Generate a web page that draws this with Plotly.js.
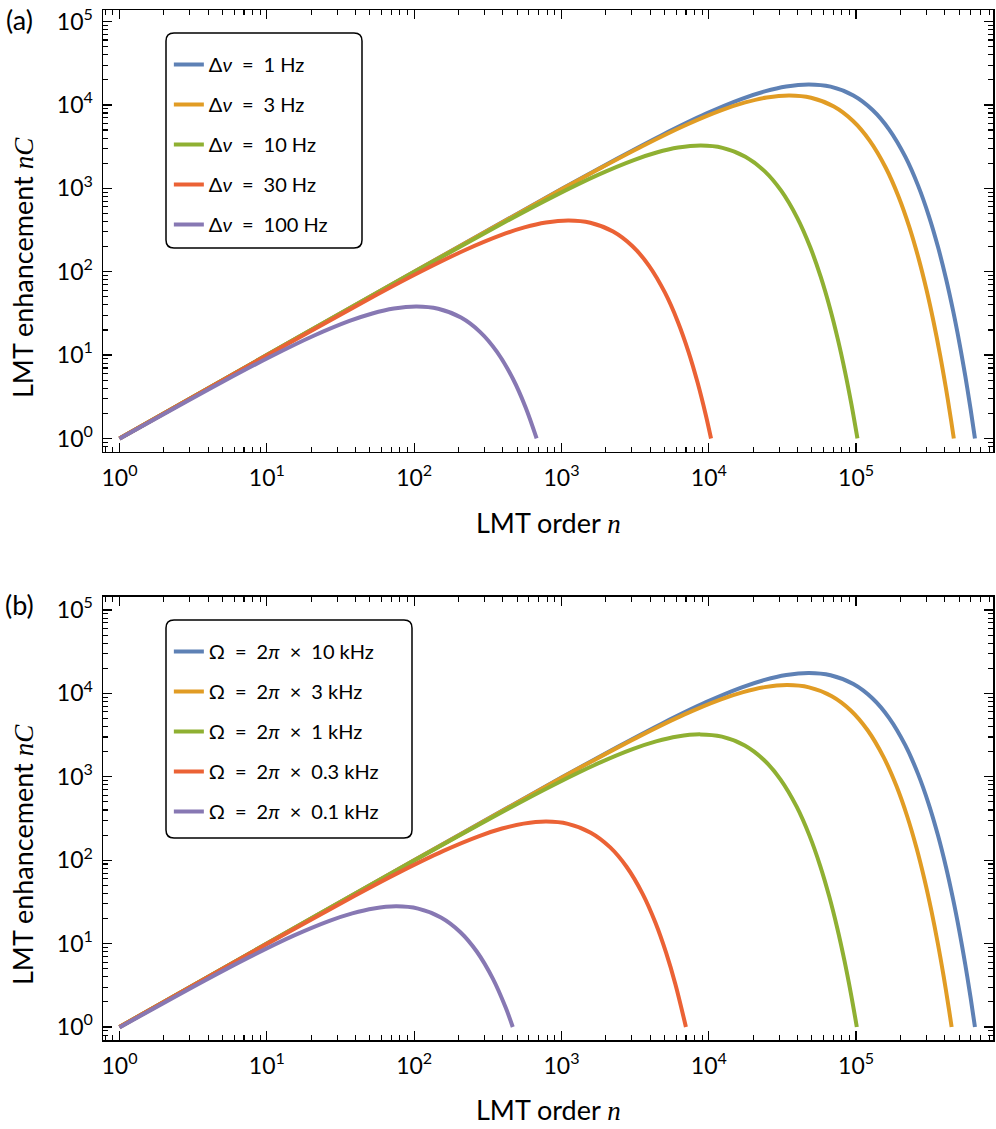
<!DOCTYPE html>
<html>
<head>
<meta charset="utf-8">
<script src="https://cdn.plot.ly/plotly-3.0.1.min.js"></script>
<style>
  body { margin: 0; background: #fff; }
  #chart { width: 996px; height: 1129px; }
</style>
</head>
<body>
<div id="chart"></div>
<script>
// panel (a): linewidth dnu
const nBlueA = [1, 10, 100, 1000, 2395, 4790, 9580, 16765, 23950, 33530, 47900, 67060, 95800, 129330, 167650, 215550, 263450, 311350, 359250, 407150, 455050, 502950, 550850, 598750, 640400];
const vBlueA = [1, 10, 99.8, 979, 2278, 4334, 7844, 11814, 14527, 16651, 17621, 16537, 12965, 8692, 5063, 2394.5, 1076.6, 468.1, 198.7, 82.84, 34.06, 13.85, 5.58, 2.231, 1];
const nOrangeA = [1, 10, 100, 1000, 1765, 3530, 7060, 12355, 17650, 24710, 35300, 49420, 70600, 95310, 123550, 158850, 194150, 229450, 264750, 300050, 335350, 370650, 405950, 441250, 460300];
const vOrangeA = [1, 10, 99.7, 972.1, 1679, 3194, 5780, 8706, 10705, 12271, 12986, 12187, 9555, 6406, 3731, 1764.6, 793.4, 345.0, 146.4, 61.05, 25.10, 10.21, 4.112, 1.644, 1];
const nGreenA = [1, 10, 100, 442.5, 885, 1770, 3097.5, 4425, 6195, 8850, 12390, 17700, 23895, 30975, 39825, 48675, 57525, 66375, 75225, 84075, 92925, 102070];
const vGreenA = [1, 9.99, 98.9, 420.9, 800.7, 1449, 2182.8, 2684, 3076, 3256, 3055, 2395, 1606, 935.4, 442.4, 198.9, 86.49, 36.71, 15.31, 6.293, 2.559, 1];
const nRedA = [1, 10, 56, 112, 224, 392, 560, 784, 1120, 1568, 2240, 3024, 3920, 5040, 6160, 7280, 8400, 9520, 10354];
const vRedA = [1, 9.91, 53.27, 101.3, 183.4, 276.2, 339.7, 389.3, 412.0, 386.7, 303.2, 203.2, 118.4, 55.99, 25.17, 10.945, 4.646, 1.937, 1];
const nPurpleA = [1, 5.2, 10.4, 20.8, 36.4, 52, 72.8, 104, 145.6, 208, 280.8, 364, 468, 572, 678];
const vPurpleA = [0.99, 4.946, 9.41, 17.03, 25.65, 31.54, 36.15, 38.26, 35.9, 28.15, 18.87, 10.99, 5.199, 2.338, 1];

// panel (b): trap frequency Omega
const nBlueB = nBlueA;
const vBlueB = vBlueA;
const nOrangeB = [1, 10, 100, 1000, 1710, 3420, 6840, 11970, 17100, 23940, 34200, 47880, 68400, 92340, 119700, 153900, 188100, 222300, 256500, 290700, 324900, 359100, 393300, 427500, 444800];
const vOrangeB = [1, 10, 99.7, 971.2, 1627, 3094, 5600, 8435, 10372, 11888, 12581, 11807, 9257, 6206, 3615, 1709.7, 768.7, 334.2, 141.9, 59.15, 24.32, 9.888, 3.984, 1.593, 1];
const nGreenB = [1, 10, 100, 438.5, 877, 1754, 3069.5, 4385, 6139, 8770, 12278, 17540, 23679, 30695, 39465, 48235, 57005, 65775, 74545, 83315, 92085, 101060];
const vGreenB = [1, 9.99, 98.87, 417.1, 793.5, 1436, 2163, 2660, 3049, 3226, 3028, 2374, 1591.5, 926.9, 438.4, 197.1, 85.7, 36.38, 15.17, 6.236, 2.536, 1];
const nRedB = [1, 10, 39.5, 79, 158, 276.5, 395, 553, 790, 1106, 1580, 2133, 2765, 3555, 4345, 5135, 5925, 6993];
const vRedB = [1, 9.87, 37.57, 71.48, 129.4, 194.8, 239.6, 274.6, 290.6, 272.7, 213.8, 143.4, 83.5, 39.49, 17.76, 7.72, 3.277, 1];
const nPurpleB = [1, 3.8, 7.6, 15.2, 26.6, 38, 53.2, 76, 106.4, 152, 205.2, 266, 342, 418, 467];
const vPurpleB = [0.987, 3.615, 6.877, 12.445, 18.745, 23.05, 26.42, 27.96, 26.24, 20.57, 13.79, 8.032, 3.799, 1.708, 1];

const colors = ["#5E81B5", "#E19C24", "#8FB032", "#EB6235", "#8778B3"];
const sp = "\u2002";
const labelsA = ["1 Hz", "3 Hz", "10 Hz", "30 Hz", "100 Hz"].map(function (t) {
  return "Δ<i>ν</i>" + sp + "=" + sp + t;
});
const labelsB = ["10 kHz", "3 kHz", "1 kHz", "0.3 kHz", "0.1 kHz"].map(function (t) {
  return "Ω" + sp + "=" + sp + "2<i>π</i>" + sp + "×" + sp + t;
});
const decades = [1, 10, 100, 1000, 10000, 100000];
const decadeText = ["10<sup>0</sup>", "10<sup>1</sup>", "10<sup>2</sup>", "10<sup>3</sup>", "10<sup>4</sup>", "10<sup>5</sup>"];

const seriesA = [[nBlueA, vBlueA], [nOrangeA, vOrangeA], [nGreenA, vGreenA], [nRedA, vRedA], [nPurpleA, vPurpleA]];
const seriesB = [[nBlueB, vBlueB], [nOrangeB, vOrangeB], [nGreenB, vGreenB], [nRedB, vRedB], [nPurpleB, vPurpleB]];

let minorVals = [];
for (let d = 0.1; d < 1e6; d *= 10) {
  for (let k = 2; k <= 9; k++) minorVals.push(k * d);
}

let data = [];
seriesA.forEach(function (s, i) {
  data.push({
    x: s[0], y: s[1], type: "scatter", mode: "lines",
    line: {color: colors[i], width: 4, shape: "spline", smoothing: 1},
    name: labelsA[i], legend: "legend", legendgroup: "a" + i,
    xaxis: "x", yaxis: "y"
  });
});
seriesB.forEach(function (s, i) {
  data.push({
    x: s[0], y: s[1], type: "scatter", mode: "lines",
    line: {color: colors[i], width: 4, shape: "spline", smoothing: 1},
    name: labelsB[i], legend: "legend2", legendgroup: "b" + i,
    xaxis: "x2", yaxis: "y2"
  });
});

const font = {family: "Lato, 'Noto Sans', sans-serif", size: 20, color: "#000"};
const nItalic = "<span style=\"font-family:'Liberation Serif'\"><i>n</i></span>";
const cItalic = "<span style=\"font-family:'Liberation Serif'\"><i>C</i></span>";

function xAxis(anchor) {
  return {
    type: "log", range: [-0.112, 5.929], anchor: anchor,
    showline: true, linecolor: "#000", linewidth: 1.5, mirror: "ticks",
    ticks: "inside", ticklen: 9, tickwidth: 1.3, tickcolor: "#000",
    tickmode: "array", tickvals: decades, ticktext: decadeText,
    minor: {ticks: "inside", ticklen: 5, tickwidth: 1.1, tickcolor: "#000", tickmode: "array", tickvals: minorVals},
    showgrid: false, zeroline: false, ticklabelstandoff: 5,
    tickfont: {size: 23}
  };
}
function yAxis(anchor, domain, range) {
  return {
    type: "log", range: range, anchor: anchor, domain: domain,
    showline: true, linecolor: "#000", linewidth: 1.5, mirror: "ticks",
    ticks: "inside", ticklen: 9, tickwidth: 1.3, tickcolor: "#000",
    tickmode: "array", tickvals: decades, ticktext: decadeText,
    minor: {ticks: "inside", ticklen: 5, tickwidth: 1.1, tickcolor: "#000", tickmode: "array", tickvals: minorVals},
    showgrid: false, zeroline: false, ticklabelstandoff: 4,
    tickfont: {size: 23}
  };
}

// pixel -> paper helpers (plot area 103..993 x 10..1040)
const W = 890, H = 1030;
function px(v) { return (v - 103) / W; }
function py(v) { return 1 - (v - 10) / H; }

// rounded legend frames, legend itself is transparent on top
function roundBox(x0, y0, x1, y1) {
  const r = 8;
  const f = function (v) { return v.toFixed(5); };
  const X = function (v) { return f(px(v)); };
  const Y = function (v) { return f(py(v)); };
  return {
    type: "path", xref: "paper", yref: "paper", layer: "above",
    fillcolor: "#fff", line: {color: "#000", width: 1.5},
    path: "M" + X(x0 + r) + "," + Y(y0) +
      " L" + X(x1 - r) + "," + Y(y0) + " Q" + X(x1) + "," + Y(y0) + " " + X(x1) + "," + Y(y0 + r) +
      " L" + X(x1) + "," + Y(y1 - r) + " Q" + X(x1) + "," + Y(y1) + " " + X(x1 - r) + "," + Y(y1) +
      " L" + X(x0 + r) + "," + Y(y1) + " Q" + X(x0) + "," + Y(y1) + " " + X(x0) + "," + Y(y1 - r) +
      " L" + X(x0) + "," + Y(y0 + r) + " Q" + X(x0) + "," + Y(y0) + " " + X(x0 + r) + "," + Y(y0) + " Z"
  };
}

const legendStyle = {
  bgcolor: "rgba(0,0,0,0)", borderwidth: 0, font: {size: 20},
  xanchor: "left", yanchor: "top", tracegroupgap: 11
};

function label(text, x, y, size, angle) {
  return {text: text, xref: "paper", yref: "paper", x: px(x), y: py(y),
    xanchor: "center", yanchor: "middle", showarrow: false,
    textangle: angle || 0, font: {size: size}};
}

let layout = {
  width: 996, height: 1129,
  margin: {l: 103, r: 3, t: 10, b: 89},
  paper_bgcolor: "#fff", plot_bgcolor: "#fff",
  font: font, showlegend: true,
  xaxis: xAxis("y"),
  yaxis: yAxis("x", [0.5709, 1], [-0.162, 5.138]),
  xaxis2: xAxis("y2"),
  yaxis2: yAxis("x2", [0, 0.4301], [-0.156, 5.156]),
  legend: Object.assign({x: 0.074, y: 0.966}, legendStyle),
  legend2: Object.assign({x: 0.074, y: 0.396}, legendStyle),
  shapes: [roundBox(166, 33, 362, 248), roundBox(166, 620, 412, 838)],
  annotations: [
    label("(a)", 19, 20, 27),
    label("(b)", 19, 604, 27),
    label("LMT order " + nItalic, 548, 522, 27),
    label("LMT order " + nItalic, 548, 1109, 27),
    label("LMT enhancement " + nItalic + cItalic, 22, 268, 27, -90),
    label("LMT enhancement " + nItalic + cItalic, 22, 855, 27, -90)
  ]
};

Plotly.newPlot("chart", data, layout, {staticPlot: true});
</script>
</body>
</html>
